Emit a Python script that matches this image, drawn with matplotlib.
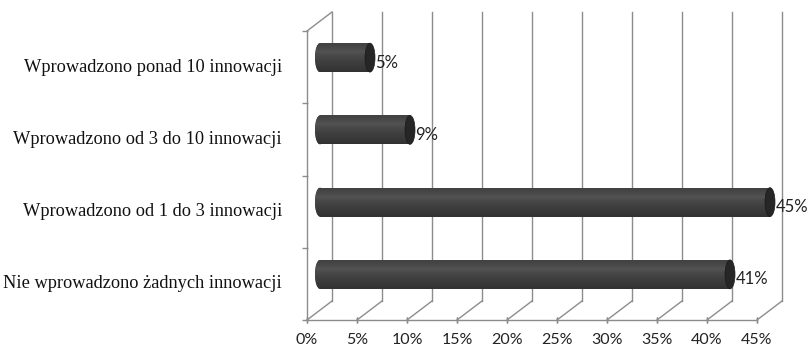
import numpy as np
import matplotlib.pyplot as plt
import matplotlib.transforms as mtransforms
from matplotlib.patches import Ellipse

# data (top to bottom)
categories = [
    "Wprowadzono ponad 10 innowacji",
    "Wprowadzono od 3 do 10 innowacji",
    "Wprowadzono od 1 do 3 innowacji",
    "Nie wprowadzono żadnych innowacji",
]
values = [5, 9, 45, 41]
xticks = [0, 5, 10, 15, 20, 25, 30, 35, 40, 45]

W, H = 810, 351
fig = plt.figure(figsize=(W / 100, H / 100), dpi=100)
# axes = front plane of the 3d box
ax = fig.add_axes([307 / W, (H - 320) / H, 450 / W, 289 / H])
ax.set_xlim(0, 45)
ax.set_ylim(len(categories) - 0.5, -0.5)
ax.axis("off")

grid_col = "#8c8c8c"
depth = (25, 19)   # back plane offset in pixels
mid = (13, 9.5)    # bars sit half way in depth

back = mtransforms.offset_copy(ax.transData, fig, x=depth[0], y=depth[1], units="dots")
midt = mtransforms.offset_copy(ax.transData, fig, x=mid[0], y=mid[1], units="dots")

y0, y1 = len(categories) - 0.5, -0.5

# back wall grid lines and floor diagonals
for t in xticks:
    ax.plot([t, t], [y0, y1], color=grid_col, lw=1, transform=back, clip_on=False)
    p_front = ax.transData.transform((t, y0))
    p_back = back.transform((t, y0))
    fig.add_artist(plt.Line2D([p_front[0] / W, p_back[0] / W], [p_front[1] / H, p_back[1] / H],
                              color=grid_col, lw=1))
    # tick below front axis
    ax.plot([t, t], [y0, y0], marker="|", markersize=5, color=grid_col, clip_on=False)
    ax.text(t, y0, f"{t}%", transform=mtransforms.offset_copy(ax.transData, fig, x=0, y=-13, units="dots"),
            ha="center", va="top", fontsize=11.5, family="Lato", color="#222222")

# left side wall: front vertical + top diagonal
ax.plot([0, 0], [y0, y1], color=grid_col, lw=1, clip_on=False)
ax.plot([0, 45], [y0, y0], color=grid_col, lw=1, clip_on=False)
pf = ax.transData.transform((0, y1))
pb = back.transform((0, y1))
fig.add_artist(plt.Line2D([pf[0] / W, pb[0] / W], [pf[1] / H, pb[1] / H], color=grid_col, lw=1))
for b in np.arange(-0.5, len(categories), 1.0):
    ax.plot([0], [b], marker="_", markersize=5, color=grid_col, clip_on=False,
            transform=mtransforms.offset_copy(ax.transData, fig, x=-2.5, y=0, units="dots"))

# category labels
for i, c in enumerate(categories):
    ax.text(-2.5, i, c, ha="right", va="center", fontsize=13.2, family="Liberation Serif", color="#111111")

# cylinders
bar_h = 0.40
cap_w = 1.0
shade = np.linspace(0, 1, 64)
grad = 0.33 - 0.17 * np.abs(shade - 0.3) ** 0.7
grad_img = np.tile(grad[:, None], (1, 2))
for i, v in enumerate(values):
    left_cap = Ellipse((0, i), cap_w, bar_h, facecolor="#333333", edgecolor="none",
                       transform=midt, clip_on=False)
    ax.add_patch(left_cap)
    body = ax.barh(i, v, height=bar_h, color="#3a3a3a", transform=midt, zorder=3, clip_on=False)[0]
    img = ax.imshow(grad_img, cmap="gray", vmin=0, vmax=1, aspect="auto",
                    extent=(0, v, i + bar_h / 2, i - bar_h / 2), transform=midt, zorder=3.5,
                    interpolation="bilinear")
    img.set_clip_path(body)
    left_img = ax.imshow(grad_img, cmap="gray", vmin=0, vmax=1, aspect="auto",
                         extent=(-cap_w / 2, 0.01, i + bar_h / 2, i - bar_h / 2), transform=midt,
                         zorder=3.4, interpolation="bilinear")
    left_img.set_clip_path(left_cap)
    ax.add_patch(Ellipse((v, i), cap_w, bar_h, facecolor="#262626", edgecolor="#1a1a1a",
                         lw=0.5, transform=midt, zorder=4, clip_on=False))
    ax.text(v + cap_w / 2 + 0.05, i + 0.07, f"{v}%", transform=midt, ha="left", va="center",
            fontsize=12, family="Lato", color="#222222", zorder=5)

ax.set_xlim(0, 45)
ax.set_ylim(len(categories) - 0.5, -0.5)
fig.savefig("out.png", dpi=100, facecolor="white")
